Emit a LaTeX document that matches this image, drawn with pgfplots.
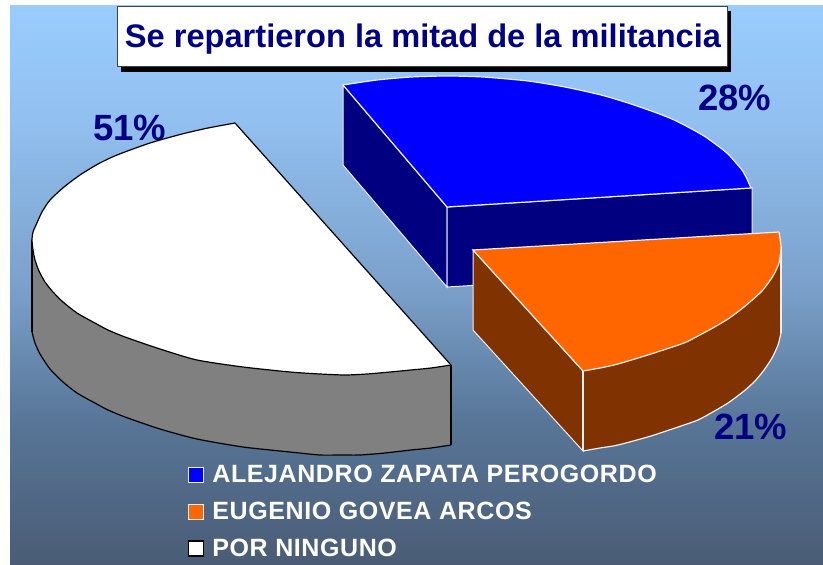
\documentclass[border=0pt]{standalone}
\usepackage{fontspec}
\setmainfont{Liberation Sans}
\usepackage{pgfplots}
\pgfplotsset{compat=1.18}
\definecolor{navyt}{HTML}{000080}
\definecolor{dkblue}{HTML}{000080}
\definecolor{dkorange}{HTML}{803300}
\definecolor{orangetop}{HTML}{FF6600}
\definecolor{sidegray}{HTML}{808080}
\definecolor{edge}{HTML}{F0F0F0}
\definecolor{bga}{HTML}{4A5C75}
\definecolor{bgb}{HTML}{587698}
\definecolor{bgc}{HTML}{7BA1CB}
\definecolor{bgd}{HTML}{92C0F0}
\definecolor{bge}{HTML}{99CCFF}
\pgfdeclareverticalshading{bggrad}{100bp}{
 color(0bp)=(bga); color(25bp)=(bga); color(38bp)=(bgb); color(50bp)=(bgc); color(65bp)=(bgd); color(75bp)=(bge); color(100bp)=(bge)}
\begin{document}
\begin{tikzpicture}
\begin{axis}[
  scale only axis, width=823bp, height=565bp,
  xmin=0, xmax=823, ymin=0, ymax=565, y dir=reverse,
  hide axis, clip=false,
  legend style={at={(axis cs:186,461)}, anchor=north west, draw=none, fill=none,
    font={\color{white}\bfseries\fontsize{25bp}{27bp}\selectfont\addfontfeatures{LetterSpace=2.4}},
    row sep=14bp, inner sep=2bp, cells={anchor=west},
    /tikz/column 1/.style={column sep=6bp}},
  legend image code/.code={\draw[#1,line width=1.2bp] (0bp,-7.5bp) rectangle (15bp,7.5bp);},
]
% background
\fill[white] (axis cs:0,0) rectangle (axis cs:823,565);
\path[shading=bggrad] (axis cs:10,6) rectangle (axis cs:823,565);
% title box
\fill[black] (axis cs:121,11) rectangle (axis cs:731,72);
\draw[fill=white,draw=black!75,line width=1bp] (axis cs:117,7) rectangle (axis cs:727,67);
\node[anchor=base,text=navyt,inner sep=0pt,font=\bfseries\fontsize{32.6bp}{36bp}\selectfont] at (axis cs:423,48) {Se repartieron la mitad de la militancia};
% blue sides
\addplot[forget plot,fill=dkblue,draw=edge,line width=1bp] coordinates {(343,85)(343,165)(447,287)(447,207)} -- cycle;
\addplot[forget plot,fill=dkblue,draw=edge,line width=1bp] coordinates {(447,207)(752,188)(752,268)(447,287)} -- cycle;
% blue top
\addplot[forget plot,fill=blue,draw=none] coordinates {(447,207)(343,85)(377,80)(411,77)(447,76)(483,77)(528,81)(565,87)(601,95)(628,103)(654,112)(672,119)(688,127)(704,136)(718,146)(728,154)(736,163)(742,170)(746,177)(751,188)} -- cycle;
\addplot[forget plot,smooth,tension=0.4,fill=blue,draw=edge,line width=1.2bp] coordinates {(343,85)(377,80)(411,77)(447,76)(483,77)(528,81)(565,87)(601,95)(628,103)(654,112)(672,119)(688,127)(704,136)(718,146)(728,154)(736,163)(742,170)(746,177)(751,188)};
\addplot[fill=blue,draw=edge,line width=1.2bp] coordinates {(343,85)(447,207)(751,188)};
\addlegendentry{ALEJANDRO ZAPATA PEROGORDO}
% orange side
\addplot[forget plot,fill=dkorange,draw=edge,line width=1bp] coordinates {(473,250)(473,330)(583,451)(583,371)} -- cycle;
\addplot[forget plot,fill=dkorange,draw=none] coordinates {(583,371)(600,368)(618,364)(651,354)(684,343)(698,336)(711,329)(728,319)(744,307)(762,291)(773,276)(779,263)(781,247)(781,333)(778,345)(772,358)(764,370)(755,381)(744,391)(728,403)(711,413)(698,420)(684,425)(651,436)(618,445)(600,448)(583,451)} -- cycle;
\addplot[forget plot,smooth,tension=0.4,fill=dkorange,draw=edge,line width=1.2bp] coordinates {(781,333)(778,345)(772,358)(764,370)(755,381)(744,391)(728,403)(711,413)(698,420)(684,425)(651,436)(618,445)(600,448)(583,451)};
\addplot[forget plot,draw=edge,line width=1.2bp] coordinates {(781,247)(781,333)};
\addplot[forget plot,draw=edge,line width=1.2bp] coordinates {(583,371)(583,451)};
% orange top
\addplot[forget plot,fill=orangetop,draw=none] coordinates {(473,250)(779,232)(781,247)(779,263)(773,276)(762,291)(744,307)(728,319)(711,329)(698,336)(684,343)(651,354)(618,364)(600,368)(583,371)} -- cycle;
\addplot[forget plot,smooth,tension=0.4,fill=orangetop,draw=edge,line width=1.2bp] coordinates {(779,232)(781,247)(779,263)(773,276)(762,291)(744,307)(728,319)(711,329)(698,336)(684,343)(651,354)(618,364)(600,368)(583,371)};
\addplot[fill=orangetop,draw=edge,line width=1.2bp] coordinates {(779,232)(473,250)(583,371)};
\addlegendentry{EUGENIO GOVEA ARCOS}
% grey side
\addplot[forget plot,fill=sidegray,draw=none] coordinates {(32,240)(33,250)(35,260)(39,271)(45,282)(53,292)(63,302)(77,313)(93,322)(108,330)(125,337)(160,349)(197,360)(243,367)(290,372)(320,374)(345,375)(367,374)(390,372)(411,370)(431,368)(451,365)(451,445)(431,448)(411,450)(385,453)(360,455)(340,455)(320,455)(290,452)(243,447)(197,439)(160,429)(125,417)(108,410)(93,402)(77,393)(63,382)(50,369)(40,354)(35,343)(32,332)} -- cycle;
\addplot[forget plot,smooth,tension=0.4,fill=sidegray,draw=black,line width=1.2bp] coordinates {(451,445)(431,448)(411,450)(385,453)(360,455)(340,455)(320,455)(290,452)(243,447)(197,439)(160,429)(125,417)(108,410)(93,402)(77,393)(63,382)(50,369)(40,354)(35,343)(32,332)};
\addplot[forget plot,draw=black,line width=1.2bp] coordinates {(32,240)(32,332)};
\addplot[forget plot,draw=black,line width=1.2bp] coordinates {(451,365)(451,445)};
% white top
\addplot[forget plot,fill=white,draw=none] coordinates {(235,123)(208,128)(182,134)(150,143)(117,155)(98,164)(80,175)(64,187)(50,200)(42,212)(36,225)(33,232)(32,240)(33,250)(35,260)(39,271)(45,282)(53,292)(63,302)(77,313)(93,322)(108,330)(125,337)(160,349)(197,360)(243,367)(290,372)(320,374)(345,375)(367,374)(390,372)(411,370)(431,368)(451,365)} -- cycle;
\addplot[forget plot,smooth,tension=0.4,fill=white,draw=black,line width=1.2bp] coordinates {(235,123)(208,128)(182,134)(150,143)(117,155)(98,164)(80,175)(64,187)(50,200)(42,212)(36,225)(33,232)(32,240)(33,250)(35,260)(39,271)(45,282)(53,292)(63,302)(77,313)(93,322)(108,330)(125,337)(160,349)(197,360)(243,367)(290,372)(320,374)(345,375)(367,374)(390,372)(411,370)(431,368)(451,365)};
\addplot[fill=white,draw=black,line width=1.2bp] coordinates {(235,123)(451,365)};
\addlegendentry{POR NINGUNO}
% percentages
\node[anchor=base west,text=navyt,inner sep=0pt,font=\bfseries\fontsize{36.5bp}{40bp}\selectfont] at (axis cs:93,140) {51\%};
\node[anchor=base west,text=navyt,inner sep=0pt,font=\bfseries\fontsize{36.5bp}{40bp}\selectfont] at (axis cs:698,110) {28\%};
\node[anchor=base west,text=navyt,inner sep=0pt,font=\bfseries\fontsize{36.5bp}{40bp}\selectfont] at (axis cs:714,439) {21\%};
\end{axis}
\end{tikzpicture}
\end{document}
